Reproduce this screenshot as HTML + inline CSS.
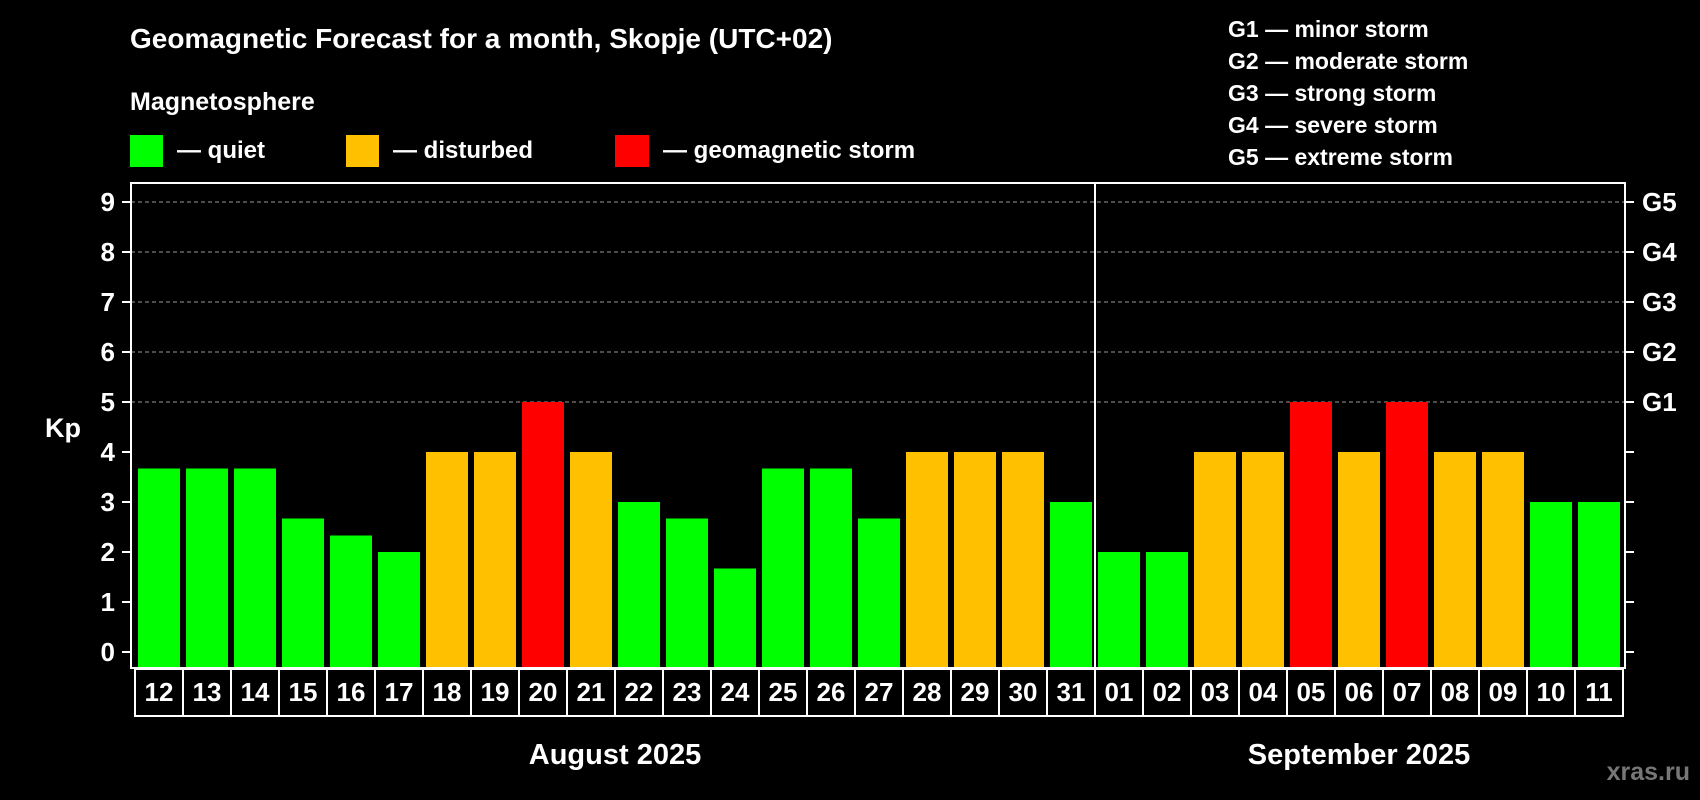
<!DOCTYPE html>
<html><head><meta charset="utf-8">
<style>
html,body{margin:0;padding:0;background:#000;}
svg{display:block;font-family:"Liberation Sans",Arial,sans-serif;font-weight:bold;}
</style></head>
<body>
<svg id="chart" width="1700" height="800" viewBox="0 0 1700 800">
<rect x="0" y="0" width="1700" height="800" fill="#000"/>
<text x="130" y="48" font-size="28" fill="#fff">Geomagnetic Forecast for a month, Skopje (UTC+02)</text>
<text x="130" y="110" font-size="25" fill="#fff">Magnetosphere</text>
<g>
<rect x="130" y="135" width="33" height="32" fill="#00ff00"/>
<text x="177" y="158" font-size="24" fill="#fff">— quiet</text></g>
<g>
<rect x="346" y="135" width="33" height="32" fill="#ffc000"/>
<text x="393" y="158" font-size="24" fill="#fff">— disturbed</text></g>
<g>
<rect x="615" y="135" width="34" height="32" fill="#ff0000"/>
<text x="663" y="158" font-size="24" fill="#fff">— geomagnetic storm</text></g>
<g font-size="23" fill="#fff">
<text x="1228" y="37">G1 — minor storm</text>
<text x="1228" y="69">G2 — moderate storm</text>
<text x="1228" y="101">G3 — strong storm</text>
<text x="1228" y="133">G4 — severe storm</text>
<text x="1228" y="165">G5 — extreme storm</text>
</g>
<text x="63" y="437" font-size="27" fill="#fff" text-anchor="middle">Kp</text>
<g id="grid"></g>
<g id="bars"></g>
<g id="axes"></g>
<text x="615" y="764" font-size="29" fill="#fff" text-anchor="middle">August 2025</text>
<text x="1359" y="764" font-size="29" fill="#fff" text-anchor="middle">September 2025</text>
<text x="1690" y="780" font-size="25" fill="#777" text-anchor="end">xras.ru</text>
</svg>
<script>
const days = ["12","13","14","15","16","17","18","19","20","21","22","23","24","25","26","27","28","29","30","31","01","02","03","04","05","06","07","08","09","10","11"];
const kpValues = [3.67,3.67,3.67,2.67,2.33,2,4,4,5,4,3,2.67,1.67,3.67,3.67,2.67,4,4,4,3,2,2,4,4,5,4,5,4,4,3,3];
const yTicks = [0,1,2,3,4,5,6,7,8,9];
const gLabels = ["G1","G2","G3","G4","G5"];
const gLevels = [5,6,7,8,9];

const NS="http://www.w3.org/2000/svg";
const plotL=131, plotR=1625, plotT=183, plotB=668;
const y0=652, unit=50;
const xStart=138, pitch=48, barW=42;
function yScale(v){return y0 - v*unit;}
function xScale(i){return xStart + i*pitch;}
function colorFor(v){return v>=5?"#ff0000":(v>=4?"#ffc000":"#00ff00");}
function mk(tag,attrs,parent){const e=document.createElementNS(NS,tag);for(const k in attrs)e.setAttribute(k,attrs[k]);parent.appendChild(e);return e;}

const grid=document.getElementById('grid');
gLevels.forEach(v=>{
  const l=mk('line',{x1:plotL,x2:plotR,y1:yScale(v),y2:yScale(v),stroke:"#999","stroke-width":1,"stroke-dasharray":"4,3"},grid);
  
  
});

const bars=document.getElementById('bars');
kpValues.forEach((v,i)=>{
  const r=mk('rect',{x:xScale(i),y:yScale(v),width:barW,height:y0+16-yScale(v),fill:colorFor(v)},bars);
  
  
});

const axes=document.getElementById('axes');
const frame=mk('rect',{x:plotL,y:plotT,width:plotR-plotL,height:plotB-plotT,fill:"none",stroke:"#fff","stroke-width":2},axes);


const div=mk('line',{x1:1095,x2:1095,y1:plotT,y2:plotB,stroke:"#fff","stroke-width":2},axes);


yTicks.forEach(v=>{
  const y=yScale(v);
  mk('line',{x1:122,x2:plotL,y1:y,y2:y,stroke:"#fff","stroke-width":2},axes);
  mk('line',{x1:plotR,x2:1634,y1:y,y2:y,stroke:"#fff","stroke-width":2},axes);
  const t=mk('text',{x:115,y:y+9,"font-size":26,fill:"#fff","text-anchor":"end"},axes);
  t.textContent=v;
  
  
});
gLevels.forEach((v,i)=>{
  const t=mk('text',{x:1642,y:yScale(v)+9,"font-size":26,fill:"#fff"},axes);
  t.textContent=gLabels[i];
  
  
});
days.forEach((d,i)=>{
  const bx=135+i*pitch;
  const r=mk('rect',{x:bx,y:669,width:pitch,height:47,fill:"none",stroke:"#fff","stroke-width":2},axes);
  
  
  const t=mk('text',{x:bx+pitch/2,y:701,"font-size":26,fill:"#fff","text-anchor":"middle"},axes);
  t.textContent=d;
  
  
});
</script>
</body></html>
